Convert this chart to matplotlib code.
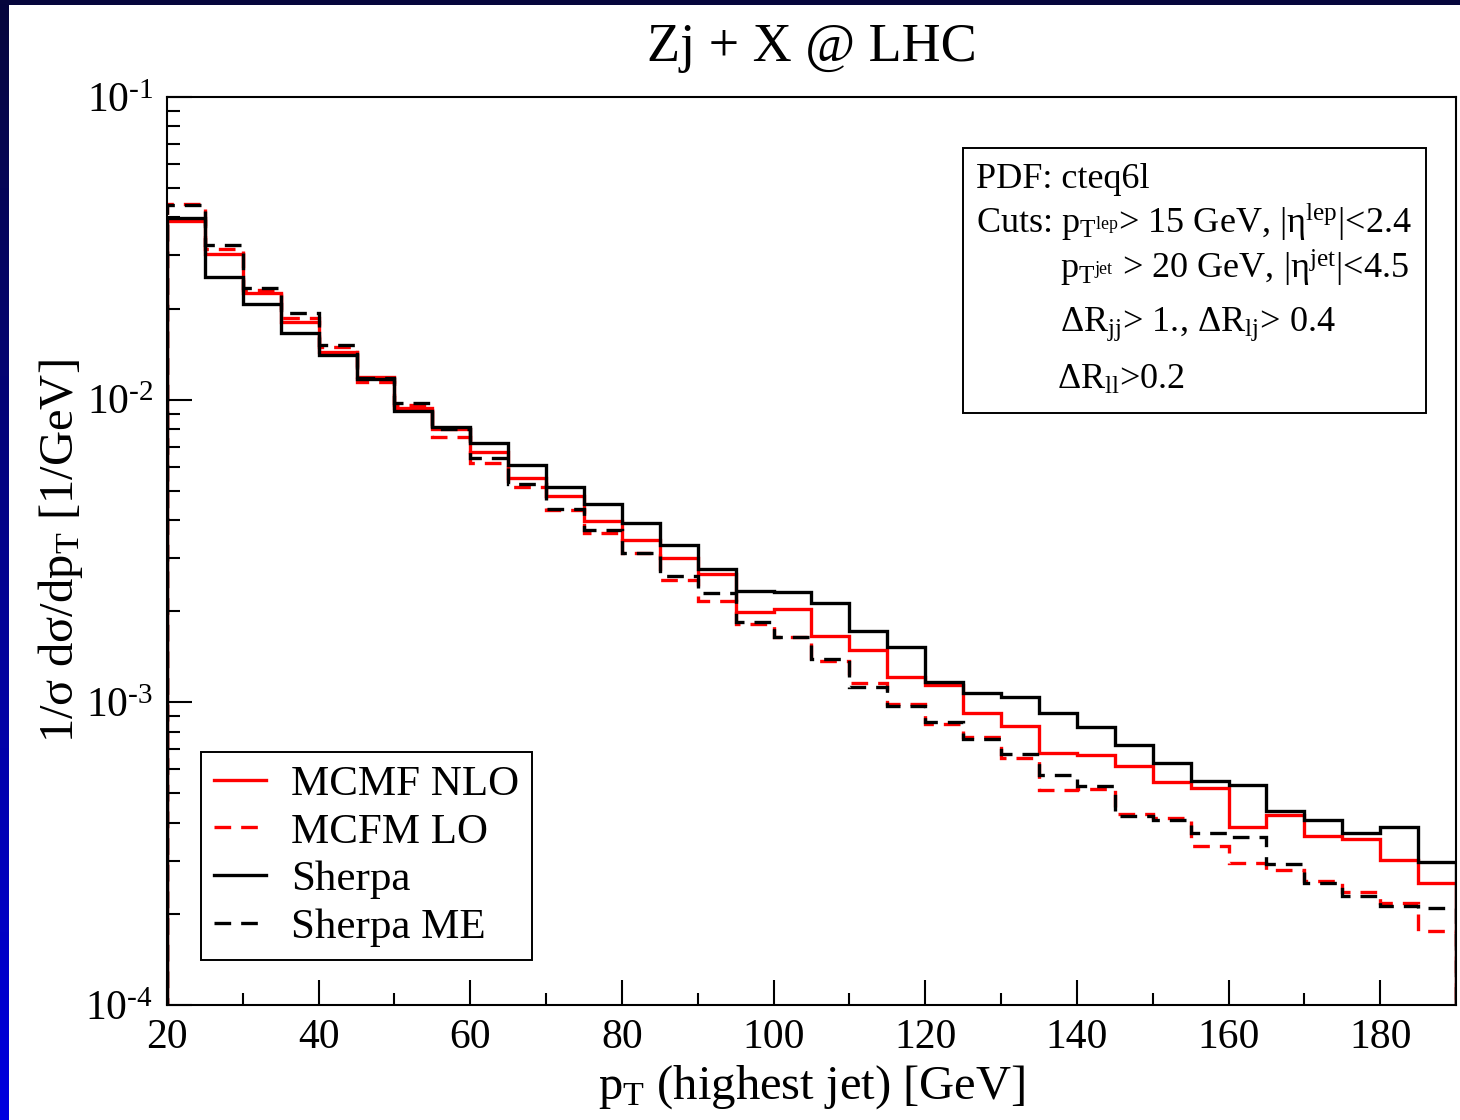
import matplotlib.pyplot as plt
import numpy as np
from matplotlib.patches import Rectangle
from matplotlib.colors import LinearSegmentedColormap
from matplotlib.ticker import FuncFormatter

plt.rcParams['font.family'] = ['Liberation Serif', 'DejaVu Serif']
plt.rcParams['mathtext.fontset'] = 'custom'
plt.rcParams['mathtext.rm'] = 'Liberation Serif'
plt.rcParams['mathtext.it'] = 'Liberation Serif:italic'
plt.rcParams['mathtext.bf'] = 'Liberation Serif:bold'

# bin edges in p_T [GeV]
edges = np.arange(20, 195, 5)

mcfm_nlo = [0.0390, 0.0303, 0.0225, 0.0181, 0.0144, 0.0119, 0.00939, 0.00800, 0.00672, 0.00551,
            0.00481, 0.00398, 0.00344, 0.00300, 0.00266, 0.00199, 0.00204, 0.00166, 0.00149, 0.00121,
            0.00114, 0.000923, 0.000836, 0.000680, 0.000670, 0.000617, 0.000546, 0.000522, 0.000388, 0.000425,
            0.000362, 0.000354, 0.000302, 0.000253]
mcfm_lo = [0.0443, 0.0315, 0.0230, 0.0186, 0.0149, 0.0114, 0.00960, 0.00753, 0.00618, 0.00515,
           0.00432, 0.00363, 0.00312, 0.00254, 0.00216, 0.00182, 0.00164, 0.00137, 0.00116, 0.000988,
           0.000848, 0.000769, 0.000655, 0.000514, 0.000517, 0.000428, 0.000415, 0.000335, 0.000295, 0.000280,
           0.000257, 0.000236, 0.000217, 0.000176]
sherpa = [0.0398, 0.0254, 0.0207, 0.0166, 0.0141, 0.0117, 0.00918, 0.00813, 0.00719, 0.00609,
          0.00515, 0.00452, 0.00392, 0.00331, 0.00276, 0.00233, 0.00232, 0.00213, 0.00172, 0.00152,
          0.00117, 0.00107, 0.00104, 0.000923, 0.000829, 0.000723, 0.000631, 0.000550, 0.000533, 0.000438,
          0.000409, 0.000370, 0.000388, 0.000297]
sherpa_me = [0.0440, 0.0325, 0.0234, 0.0193, 0.0152, 0.0118, 0.00975, 0.00800, 0.00642, 0.00527,
             0.00436, 0.00371, 0.00312, 0.00262, 0.00230, 0.00184, 0.00164, 0.00139, 0.00112, 0.000973,
             0.000861, 0.000757, 0.000675, 0.000576, 0.000530, 0.000421, 0.000409, 0.000370, 0.000359, 0.000292,
             0.000253, 0.000229, 0.000213, 0.000209]

fig = plt.figure(figsize=(14.6, 11.2), dpi=100)

# blue slide border: dark top strip, gradient strip on the left
top = fig.add_axes([0, 1 - 5 / 1120, 1, 5 / 1120])
top.set_axis_off()
top.add_patch(Rectangle((0, 0), 1, 1, color='#06063c', transform=top.transAxes))
left = fig.add_axes([0, 0, 9 / 1460, 1])
grad = np.linspace(0, 1, 256).reshape(-1, 1)
cmap = LinearSegmentedColormap.from_list('border', ['#0000e0', '#06063c'])
left.imshow(grad, aspect='auto', cmap=cmap, origin='lower', extent=[0, 1, 0, 1])
left.set_axis_off()

ax = fig.add_axes([167 / 1460, 1 - 1005 / 1120, 1289 / 1460, 908 / 1120])

lw = 2.4
dash = (0, (5, 3))
ax.stairs(mcfm_nlo, edges, color='red', lw=lw, label='MCMF NLO')
ax.stairs(mcfm_lo, edges, color='red', lw=lw, ls=dash, label='MCFM LO')
ax.stairs(sherpa, edges, color='black', lw=lw, label='Sherpa')
ax.stairs(sherpa_me, edges, color='black', lw=lw, ls=dash, label='Sherpa ME')

ax.set_yscale('log')
ax.set_xlim(20, 190)
ax.set_ylim(1e-4, 1e-1)
ax.set_xticks(np.arange(20, 190, 20))
ax.set_xticks(np.arange(30, 190, 20), minor=True)
ax.yaxis.set_major_formatter(FuncFormatter(lambda v, p: r'10$^{\text{%d}}$' % round(np.log10(v))))

for s in ax.spines.values():
    s.set_linewidth(1.5)
ax.tick_params(which='both', direction='in', top=False, right=False, width=1.5, labelsize=30, pad=10)
ax.tick_params(which='major', length=18)
ax.tick_params(which='minor', length=9)

ax.set_title('Zj + X @ LHC', fontsize=39, pad=26)
ax.set_xlabel(r'p$_\mathrm{T}$ (highest jet) [GeV]', fontsize=35, labelpad=4)
ax.set_ylabel(r'1/σ dσ/dp$_\mathrm{T}$ [1/GeV]', fontsize=35, labelpad=0)

leg = ax.legend(loc='lower left', bbox_to_anchor=(0.0264, 0.0496), borderaxespad=0,
                fontsize=31, handlelength=1.2, labelspacing=0.2, handletextpad=0.6,
                fancybox=False, framealpha=1, edgecolor='black', borderpad=0.3)
leg.get_frame().set_linewidth(1.4)

# info box
ax.add_patch(Rectangle((0.6175, 0.652), 0.3592, 0.2918, transform=ax.transAxes,
                       fill=False, edgecolor='black', lw=1.4))
fs = 26
ax.text(0.628, 0.8998, 'PDF: cteq6l', transform=ax.transAxes, fontsize=fs, va='baseline')
ax.text(0.628, 0.8502, r'Cuts: p$_{\mathrm{T}^{\mathrm{lep}}}$> 15 GeV, |η$^{\mathrm{lep}}$|<2.4',
        transform=ax.transAxes, fontsize=fs, va='baseline')
ax.text(0.6928, 0.7996, r'p$_{\mathrm{T}^{\mathrm{jet}}}$ > 20 GeV, |η$^{\mathrm{jet}}$|<4.5',
        transform=ax.transAxes, fontsize=fs, va='baseline')
ax.text(0.6928, 0.7423, r'ΔR$_{\mathrm{jj}}$> 1., ΔR$_{\mathrm{lj}}$> 0.4',
        transform=ax.transAxes, fontsize=fs, va='baseline')
ax.text(0.6905, 0.6784, r'ΔR$_{\mathrm{ll}}$>0.2', transform=ax.transAxes, fontsize=fs, va='baseline')

fig.savefig('out.png', dpi=100)
